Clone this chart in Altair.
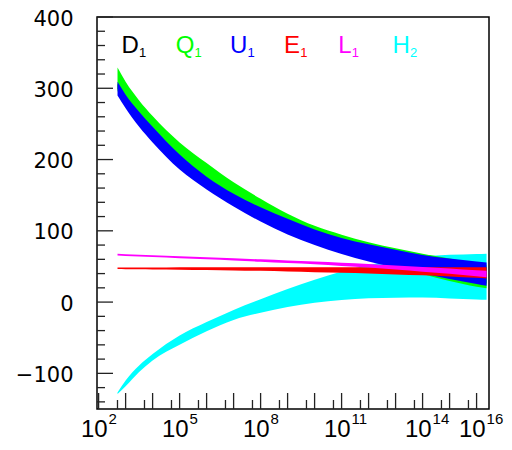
import altair as alt
import pandas as pd

# ---- data (x given as log10 of the energy scale) ----
LOG_E = [2.7, 3.0, 3.5, 4, 5, 6, 7, 8, 9, 10, 11, 12, 13, 14, 15, 16, 16.37]

H2_hi = [-127, -110, -89, -73, -47, -28, -11, 4, 18.5, 31.5, 43, 52, 59, 63.5, 66.3, 67.6, 68]
H2_lo = [-129, -118, -98, -82, -60, -41, -25, -15, -7, -1, 3, 5.5, 6.2, 6.3, 5.2, 3.8, 3.3]

D1_hi = [306, 288, 264, 243, 204, 173, 149, 130, 114, 99, 87, 78, 70.5, 63, 58, 51.5, 49.5]
D1_lo = [299, 281, 255, 233, 195, 167, 143, 122, 104, 89, 76, 64.5, 53.5, 43, 35.5, 28.5, 26]

Q1_hi = [329, 309, 283, 261, 224, 195, 168, 145, 124, 107, 94.5, 84, 75.5, 68, 61, 54.5, 52.5]
Q1_lo = [296, 278, 252, 230, 192, 164, 140, 119, 101, 86, 73, 61.5, 50.5, 39.5, 29.5, 21.5, 19.5]

U1_hi = [309, 291, 267, 246, 207, 176, 152, 133, 117, 102, 90, 81, 73.5, 66, 61, 57, 55.5]
U1_lo = [290, 272, 246, 224, 186, 158, 134, 113, 95, 80, 67.5, 57, 48, 40, 32.5, 25.5, 23]

E1_hi = [48.5, 48.5, 48.5, 48.5, 48.8, 49, 49, 49, 49, 49, 49, 49, 49, 49, 49, 49, 49]
E1_lo = [46.3, 46.2, 46, 45.8, 45.5, 45, 44.5, 43.8, 43, 42, 41, 40, 38.8, 37.5, 36, 34, 33]

L1_hi = [67.7, 67.2, 66.55, 65.8, 64.4, 63, 61.6, 60, 58.4, 57, 55.25, 53.5, 51.4, 49.3, 47.2, 44.7, 44]
L1_lo = [65.3, 64.8, 64.05, 63.2, 61.6, 60, 58.4, 56.6, 54.8, 53, 50.75, 48.5, 45.6, 42.7, 39.8, 36.3, 35]

NAMES = ["D", "Q", "U", "E", "L", "H"]
SUBS = ["1", "1", "1", "1", "1", "2"]
COLORS = ["#000000", "#00ff00", "#0000ff", "#ff0000", "#ff00ff", "#00ffff"]

Y_MAJOR = [-100, 0, 100, 200, 300, 400]
Y_MINOR = [-140, -120, -80, -60, -40, -20, 20, 40, 60, 80, 120, 140, 160, 180,
           220, 240, 260, 280, 320, 340, 360, 380]
X_MAJOR_EXP = [2, 3, 4, 5, 6, 7, 8, 9, 10, 11, 12, 13, 14, 15, 16]
X_MINOR_EXP = [2, 3, 4, 5, 6, 7, 8, 9, 10, 11, 12, 13, 14, 15]   # ticks at 5 x 10^n
X_LABEL_EXP = [2, 5, 8, 11, 14, 16]

# ---- tables ----
df = pd.DataFrame({
    "x": [10 ** e for e in LOG_E],
    "H2_lo": H2_lo, "H2_hi": H2_hi,
    "D1_lo": D1_lo, "D1_hi": D1_hi,
    "Q1_lo": Q1_lo, "Q1_hi": Q1_hi,
    "U1_lo": U1_lo, "U1_hi": U1_hi,
    "E1_lo": E1_lo, "E1_hi": E1_hi,
    "L1_lo": L1_lo, "L1_hi": L1_hi,
})
ymaj = pd.DataFrame({"v": Y_MAJOR})
ymin = pd.DataFrame({"v": Y_MINOR})
xmaj = pd.DataFrame({"x": [10 ** e for e in X_MAJOR_EXP]})
xmin = pd.DataFrame({"x": [5 * 10 ** e for e in X_MINOR_EXP]})
xlab = pd.DataFrame({"x": [10 ** e for e in X_LABEL_EXP],
                     "base": ["10"] * len(X_LABEL_EXP),
                     "exp": [str(e) for e in X_LABEL_EXP]})
leg = pd.DataFrame({"name": NAMES, "sub": SUBS, "color": COLORS})

xscale = alt.Scale(type="log", domain=[10 ** 1.94, 10 ** 16.46], nice=False)
yscale = alt.Scale(domain=[-150, 400], nice=False, zero=False)
yaxis = alt.Axis(values=Y_MAJOR, ticks=False, domain=False, grid=False, tickSize=0,
                 labelFont="DejaVu Sans", labelFontSize=21, labelPadding=24,
                 labelColor="black", labelOffset=2, title="")


def band(lo, hi, color):
    return alt.Chart(df).mark_area(color=color, interpolate="monotone", opacity=1).encode(
        x=alt.X("x:Q", scale=xscale, axis=None),
        y=alt.Y(f"{lo}:Q", scale=yscale, axis=yaxis),
        y2=alt.Y2(f"{hi}:Q"),
    )


bands = [
    band("H2_lo", "H2_hi", "#00ffff"),
    band("D1_lo", "D1_hi", "#000000"),
    band("Q1_lo", "Q1_hi", "#00ff00"),
    band("U1_lo", "U1_hi", "#0000ff"),
    band("E1_lo", "E1_hi", "#ff0000"),
    band("L1_lo", "L1_hi", "#ff00ff"),
]

tick_style = dict(color="#222222", strokeWidth=1.3)
ytick_major = alt.Chart(ymaj).mark_rule(**tick_style).encode(
    y=alt.Y("v:Q", scale=yscale, axis=yaxis), x=alt.value(0), x2=alt.value(16))
ytick_minor = alt.Chart(ymin).mark_rule(**tick_style).encode(
    y=alt.Y("v:Q", scale=yscale, axis=yaxis), x=alt.value(0), x2=alt.value(8))
xtick_major = alt.Chart(xmaj).mark_rule(**tick_style).encode(
    x=alt.X("x:Q", scale=xscale, axis=None), y=alt.value(392), y2=alt.value(376))
xtick_minor = alt.Chart(xmin).mark_rule(**tick_style).encode(
    x=alt.X("x:Q", scale=xscale, axis=None), y=alt.value(392), y2=alt.value(383))

xlab_base = alt.Chart(xlab).mark_text(
    font="Liberation Sans", fontSize=24, align="right", baseline="alphabetic",
    dx=9, color="black").encode(
    x=alt.X("x:Q", scale=xscale, axis=None), y=alt.value(419.5), text="base:N")
xlab_exp = alt.Chart(xlab).mark_text(
    font="Liberation Sans", fontSize=15, align="left", baseline="alphabetic",
    dx=10, color="black").encode(
    x=alt.X("x:Q", scale=xscale, axis=None), y=alt.value(406.5), text="exp:N")

main = alt.layer(*bands, ytick_major, ytick_minor, xtick_major, xtick_minor,
                 xlab_base, xlab_exp)

legscale = alt.Scale(type="point", domain=NAMES, range=[24.5, 295.5], padding=0)
leg_letters = alt.Chart(leg).mark_text(
    font="Liberation Sans", fontSize=24, align="left", baseline="alphabetic").encode(
    x=alt.X("name:N", scale=legscale, axis=None), y=alt.value(36),
    text="name:N", color=alt.Color("color:N", scale=None))


def subs(names, dx):
    return alt.Chart(leg).transform_filter(
        alt.FieldOneOfPredicate(field="name", oneOf=names)
    ).mark_text(
        font="Liberation Sans", fontSize=13, align="left", baseline="alphabetic", dx=dx).encode(
        x=alt.X("name:N", scale=legscale, axis=None), y=alt.value(40),
        text="sub:N", color=alt.Color("color:N", scale=None))


legend = alt.layer(leg_letters, subs(["D", "U", "H"], 17.5), subs(["Q"], 18.8),
                   subs(["E"], 16.1), subs(["L"], 13.5))

chart = alt.layer(main, legend).resolve_scale(x="independent").properties(
    width=392, height=392,
    autosize=alt.AutoSizeParams(type="none"),
    padding={"left": 89, "top": 9, "right": 15, "bottom": 33},
).configure_view(stroke="black", strokeWidth=1.5)

chart.save("out.html", embed_options={"renderer": "svg", "actions": False})
